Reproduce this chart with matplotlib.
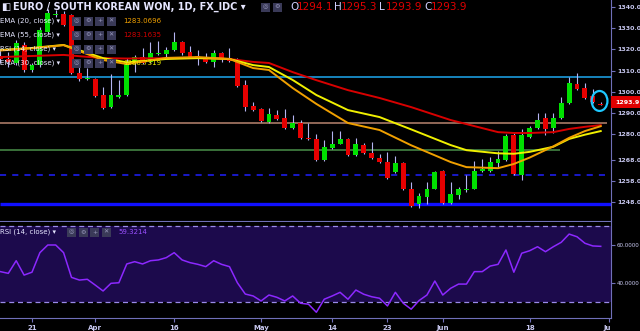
import matplotlib
matplotlib.use("Agg")
import matplotlib.pyplot as plt
from matplotlib.patches import Ellipse, Rectangle
from matplotlib.transforms import Bbox, TransformedBbox

# daily candles, bar 0 = Mar 15, bar 76 = Jun 29
opens = [1317.0, 1315.5, 1313.6, 1322.1, 1310.3, 1312.6, 1328.2, 1336.2, 1336.7, 1336.2,
         1308.9, 1306.0, 1306.0, 1298.5, 1292.8, 1297.5, 1298.5, 1313.6, 1316.4, 1314.1,
         1317.8, 1317.8, 1319.7, 1323.5, 1318.8, 1316.6, 1315.9, 1314.1, 1318.3, 1315.9,
         1315.0, 1303.2, 1293.3, 1291.9, 1285.8, 1289.1, 1287.6, 1282.9, 1285.3, 1278.2,
         1277.7, 1267.8, 1273.5, 1275.4, 1277.7, 1270.2, 1274.9, 1271.1, 1268.8, 1266.9,
         1262.2, 1266.4, 1254.2, 1247.1, 1250.4, 1254.2, 1262.6, 1247.5, 1251.3, 1253.7,
         1254.2, 1262.6, 1262.6, 1266.4, 1267.8, 1279.6, 1260.8, 1278.7, 1282.9, 1287.6,
         1282.9, 1287.6, 1294.7, 1303.7, 1301.8, 1298.0, 1294.1]
highs = [1319.5, 1318.8, 1324.5, 1323.5, 1313.5, 1330.5, 1339.2, 1338.5, 1338.0, 1336.5,
         1313.6, 1311.2, 1306.5, 1302.3, 1308.4, 1305.6, 1316.0, 1317.4, 1320.7, 1323.5,
         1324.0, 1321.0, 1328.2, 1324.0, 1321.6, 1319.7, 1318.3, 1319.7, 1318.8, 1320.7,
         1316.0, 1305.6, 1295.2, 1292.4, 1292.4, 1291.4, 1291.9, 1289.1, 1286.7, 1285.3,
         1280.1, 1277.3, 1281.5, 1281.5, 1278.2, 1278.2, 1275.8, 1276.3, 1270.7, 1271.6,
         1269.7, 1266.9, 1257.5, 1252.3, 1257.5, 1262.5, 1263.0, 1257.5, 1255.1, 1260.8,
         1267.4, 1268.3, 1269.2, 1272.1, 1280.0, 1280.6, 1282.5, 1283.9, 1290.0, 1290.0,
         1290.0, 1297.5, 1307.0, 1308.9, 1304.2, 1301.3, 1295.3]
lows = [1313.5, 1311.7, 1312.5, 1309.5, 1309.3, 1311.7, 1327.5, 1335.5, 1331.0, 1308.5,
        1305.0, 1305.5, 1297.5, 1292.0, 1292.4, 1297.0, 1298.0, 1309.3, 1313.2, 1313.8,
        1317.5, 1316.4, 1319.2, 1317.5, 1316.0, 1312.6, 1313.8, 1311.7, 1314.1, 1314.2,
        1302.3, 1290.9, 1291.0, 1285.8, 1285.5, 1286.8, 1282.5, 1282.5, 1277.8, 1277.3,
        1267.4, 1267.4, 1273.2, 1275.2, 1269.8, 1269.9, 1270.8, 1268.5, 1266.4, 1259.0,
        1261.9, 1253.9, 1245.8, 1245.2, 1247.1, 1254.0, 1247.2, 1247.2, 1249.4, 1252.7,
        1254.0, 1262.3, 1262.3, 1264.5, 1267.5, 1260.8, 1258.4, 1278.3, 1282.6, 1279.6,
        1280.6, 1287.3, 1294.4, 1301.0, 1296.8, 1294.9, 1293.9]
closes = [1315.5, 1314.0, 1323.0, 1310.3, 1312.6, 1329.2, 1337.2, 1336.7, 1331.5, 1308.9,
          1306.0, 1306.5, 1298.0, 1292.4, 1298.5, 1298.5, 1314.1, 1316.4, 1313.6, 1318.3,
          1318.3, 1319.7, 1323.5, 1318.3, 1316.4, 1316.2, 1314.1, 1318.3, 1315.9, 1314.5,
          1302.7, 1292.8, 1291.4, 1286.2, 1289.5, 1287.2, 1282.9, 1285.3, 1278.2, 1277.7,
          1267.8, 1274.0, 1275.4, 1277.7, 1270.2, 1275.4, 1271.1, 1268.8, 1266.9, 1259.3,
          1266.4, 1254.2, 1246.1, 1250.8, 1254.2, 1262.2, 1247.5, 1251.8, 1254.2, 1254.2,
          1262.6, 1263.6, 1266.9, 1268.3, 1279.2, 1261.2, 1279.6, 1282.9, 1286.7, 1282.5,
          1287.6, 1294.7, 1304.2, 1301.3, 1297.1, 1295.2, 1293.9]

# EMA values at these bars
ema_bars = [0, 4, 8, 13, 16, 21, 25, 29, 32, 34, 37, 40, 44, 48, 52, 57, 59, 63, 65, 67, 70, 72, 74, 76]
ema20 = [1319.5, 1320.5, 1322.0, 1315.0, 1313.1, 1316.0, 1316.4, 1315.5, 1311.2, 1310.3, 1301.8, 1294.3,
         1285.3, 1282.0, 1274.8, 1266.9, 1264.5, 1264.0, 1266.0, 1269.0, 1274.3, 1278.3, 1281.5, 1283.8]
ema30 = [1319.7, 1320.7, 1322.1, 1315.9, 1313.9, 1315.5, 1315.9, 1315.5, 1312.6, 1311.7, 1305.6, 1298.5,
         1291.4, 1288.1, 1282.3, 1274.9, 1272.5, 1271.0, 1270.8, 1271.7, 1274.1, 1277.8, 1279.8, 1281.5]
ema55 = [1316.4, 1316.9, 1317.4, 1315.9, 1315.7, 1315.9, 1315.9, 1315.5, 1314.1, 1313.6, 1309.3, 1305.5,
         1300.8, 1297.1, 1292.8, 1286.7, 1284.8, 1281.0, 1280.6, 1280.6, 1281.0, 1282.5, 1283.5, 1284.3]

rsi = [46.1, 45.2, 51.8, 44.3, 45.8, 56.0, 60.0, 60.0, 56.0, 43.1, 41.7, 42.1, 39.1, 36.0, 40.0, 40.3,
       50.1, 51.3, 50.1, 51.8, 52.2, 53.4, 56.0, 52.2, 50.8, 49.9, 48.7, 51.8, 49.9, 48.7, 40.3, 34.4,
       33.4, 30.8, 33.9, 32.7, 30.8, 33.4, 29.6, 29.1, 24.9, 31.7, 33.4, 35.3, 31.7, 36.5, 34.3, 33.0,
       32.2, 28.2, 35.3, 29.6, 26.5, 31.0, 33.9, 41.2, 33.9, 37.4, 39.6, 39.6, 46.1, 46.1, 49.0, 49.9,
       57.4, 45.8, 55.7, 57.0, 59.1, 56.5, 59.1, 61.4, 65.7, 64.3, 60.9, 59.5, 59.3]

# drawn support / resistance levels
levels = [1307.2, 1285.5, 1272.8, 1260.8, 1247.1]
level_ends = [77.3, 76.8, 70.8, 76.9, 77.3]
level_colors = ['#1ea8f0', '#b88470', '#3f7a3f', '#2020ff', '#1010ff']
level_styles = ['-', '-', '-', (0, (4, 4)), '-']
level_widths = [1.1, 1.1, 1.3, 1.1, 2.4]

price_ticks = [1340, 1330, 1320, 1310, 1300, 1290, 1280, 1268, 1258, 1248]
date_ticks = [4, 12, 22, 33, 42, 49, 56, 67, 77]
date_labels = ['21', 'Apr', '16', 'May', '14', '23', 'Jun', '18', 'Jul']

W, H = 640, 331
AXC = '#7070b8'
TXT = '#c8c8f0'


def px(x, y):
    return x / W, 1 - y / H


fig = plt.figure(figsize=(6.4, 3.31), dpi=100, facecolor='black')
ax = fig.add_axes([0, 1 - 221 / H, 611 / W, 221 / H], facecolor='black')
ax2 = fig.add_axes([0, 1 - 318 / H, 611 / W, 96 / H], facecolor='black')

# horizontal levels
for lv, end, c, ls, lw in zip(levels, level_ends, level_colors, level_styles, level_widths):
    ax.hlines(lv, -0.05, end, colors=c, linestyles=ls, linewidth=lw, zorder=1)

# candles
for i, (o, h, l, c) in enumerate(zip(opens, highs, lows, closes)):
    col = '#00e000' if c >= o else '#e60000'
    ax.vlines(i, l, h, color='#b4b4f0', linewidth=0.8, zorder=2)
    ax.bar(i, max(abs(c - o), 0.5), bottom=min(o, c), width=0.62, color=col, zorder=3)

ax.plot(ema_bars, ema55, color='#d80000', lw=1.4, zorder=4)
ax.plot(ema_bars, ema30, color='#f0f000', lw=1.4, zorder=4)
ax.plot(ema_bars, ema20, color='#f0a000', lw=1.4, zorder=4)

ax.add_patch(Ellipse((75.85, 1295.7), 2.0, 9.4, fill=False, edgecolor='#1ec8ff', lw=1.6, zorder=5))

ax.set_xlim(-0.05, 77.3)
ax.set_ylim(1239.1, 1343.3)
ax.set_xticks([])
ax.yaxis.tick_right()
ax.set_yticks(price_ticks)
ax.set_yticklabels(['%.1f' % v for v in price_ticks])
ax.tick_params(axis='y', colors=AXC, labelcolor=TXT, labelsize=4.5, length=3, pad=1.5)
for t in ax.get_yticklabels():
    t.set_fontweight('bold')
for s in ['top', 'left']:
    ax.spines[s].set_visible(False)
ax.spines['right'].set_color(AXC)
ax.spines['bottom'].set_color(AXC)

# RSI panel
ax2.axhspan(30, 70, color='#1c0a4c', zorder=0, lw=0)
ax2.axhline(70, color='#9a8ae8', lw=0.9, ls=(0, (4, 3)), zorder=1)
ax2.axhline(30, color='#9a8ae8', lw=0.9, ls=(0, (4, 3)), zorder=1)
ax2.plot(range(len(rsi)), rsi, color='#8c28ff', lw=1.1, zorder=2)
ax2.set_xlim(-0.05, 77.3)
ax2.set_ylim(21.9, 72)
ax2.yaxis.tick_right()
ax2.set_yticks([60, 40])
ax2.set_yticklabels(['60.0000', '40.0000'])
ax2.set_xticks(date_ticks)
ax2.set_xticklabels(date_labels)
ax2.tick_params(colors=AXC, labelcolor=TXT, length=3)
ax2.tick_params(axis='y', labelsize=4.1, pad=1)
ax2.tick_params(axis='x', labelsize=5, pad=2)
for t in ax2.get_xticklabels():
    t.set_fontweight('bold')
clip = TransformedBbox(Bbox([[0, 0], [611 / W, 1]]), fig.transFigure)
for t in ax2.get_xticklabels():
    t.set_clip_box(clip)
    t.set_clip_on(True)
for s in ['top', 'left']:
    ax2.spines[s].set_visible(False)
ax2.spines['right'].set_color(AXC)
ax2.spines['bottom'].set_color(AXC)

# last price tag
fig.patches.append(Rectangle(px(611, 108), 29 / W, 12 / H, transform=fig.transFigure,
                             facecolor='#e00000', edgecolor='none', zorder=5))
fig.text(*px(615, 102), '1293.9', color='white', fontsize=4.5, fontweight='bold', va='center', zorder=6)


def buttons(x0, y, n, glyphs):
    for k in range(n):
        x = x0 + k * 11.5
        fig.patches.append(Rectangle(px(x, y + 4.5), 9 / W, 9 / H, transform=fig.transFigure,
                                     facecolor='#3a3a58', edgecolor='none', zorder=7))
        fig.text(*px(x + 4.5, y), glyphs[k], color='#9a9abf', fontsize=4.5, ha='center', va='center', zorder=8)


glyphs = ['◎', '⚙', '+', '✕']

# header
fig.text(*px(1, 7), '◧', color='#e6e6ff', fontsize=7, va='center', zorder=8)
fig.text(*px(13, 7), 'EURO / SOUTH KOREAN WON, 1D, FX_IDC ▾', color='#e6e6ff', fontsize=7,
         fontweight='bold', va='center', zorder=8)
buttons(261, 7, 2, glyphs)
for lab, val, x in [('O', '1294.1', 290), ('H', '1295.3', 334), ('L', '1293.9', 379), ('C', '1293.9', 424)]:
    fig.text(*px(x, 7), lab, color='#d0d0ff', fontsize=7.5, va='center', zorder=8)
    fig.text(*px(x + 7, 7), val, color='#e00000', fontsize=7.5, va='center', zorder=8)

# indicator legends
rows = [('EMA (20, close) ▾', '1283.0696', '#f0a000', 21),
        ('EMA (55, close) ▾', '1283.1635', '#d00000', 35),
        ('RSI (14, close) ▾', '', '', 49),
        ('EMA (30, close) ▾', '1280.7319', '#f0f000', 63)]
for lab, val, col, y in rows:
    fig.text(*px(0.5, y), lab, color='#e6e6ff', fontsize=5, va='center', zorder=8)
    buttons(72, y, 4, glyphs)
    if val:
        fig.text(*px(123, y), val, color=col, fontsize=5, va='center', zorder=8)

fig.text(*px(0.5, 232), 'RSI (14, close) ▾', color='#e6e6ff', fontsize=5, va='center', zorder=8)
buttons(67, 232, 4, glyphs)
fig.text(*px(118, 232), '59.3214', color='#9a50ff', fontsize=5, va='center', zorder=8)

fig.savefig('out.png', dpi=100, facecolor='black')
